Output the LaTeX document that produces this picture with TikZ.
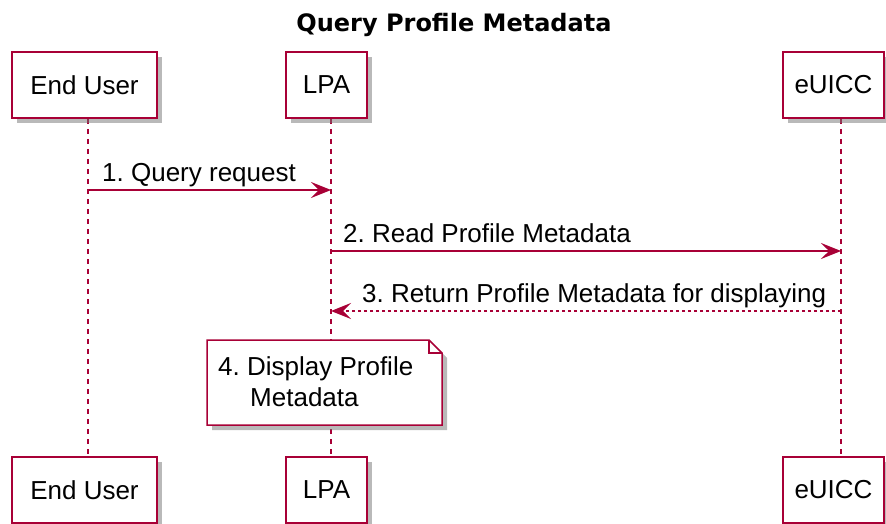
\documentclass[tikz,border=0pt]{standalone}
\usepackage{fontspec}
\setmainfont{Liberation Sans}
\newfontfamily\titlefont{DejaVu Sans}
\usetikzlibrary{arrows.meta,shadows}
\definecolor{umlred}{HTML}{A80036}
\frenchspacing

\begin{document}
\begin{tikzpicture}[x=1pt,y=-1pt,
  actor/.style={draw=umlred,line width=1.5pt,fill=white,minimum height=66pt,inner sep=0pt,font=\fontsize{26}{30}\selectfont,drop shadow={shadow xshift=5pt,shadow yshift=-5pt,fill=black!55,opacity=0.5}},
  life/.style={draw=umlred,line width=1.3pt,dash pattern=on 5pt off 5pt},
  msg/.style={draw=umlred,line width=1.4pt,-{Stealth[length=20pt,width=16pt,inset=8pt,fill=umlred]}},
  reply/.style={msg,dash pattern=on 3pt off 3pt},
  lbl/.style={anchor=base west,inner sep=0pt,font=\fontsize{26}{30}\selectfont}]
\useasboundingbox (0,0) rectangle (886,524);

\node[anchor=base,inner sep=0pt,font=\titlefont\bfseries\fontsize{24}{28}\selectfont] (title) at (454,32) {Query Profile Metadata};

\coordinate (ux) at (88,0);
\coordinate (lx) at (331,0);
\coordinate (ex) at (841,0);
\coordinate (m1) at (0,190);
\coordinate (m2) at (0,251);
\coordinate (m3) at (0,311);

\draw[life] (ux |- 0,119) -- (ux |- 0,458);
\draw[life] (lx |- 0,119) -- (lx |- 0,458);
\draw[life] (ex |- 0,119) -- (ex |- 0,458);

\node[actor,minimum width=145pt] (user) at (84.5,85) {End User};
\node[actor,minimum width=81pt] (lpa) at (326.5,85) {LPA};
\node[actor,minimum width=101pt] (euicc) at (833.5,85) {eUICC};
\node[actor,minimum width=145pt] (userB) at (84.5,490) {End User};
\node[actor,minimum width=81pt] (lpaB) at (326.5,490) {LPA};
\node[actor,minimum width=101pt] (euiccB) at (833.5,490) {eUICC};

\draw[msg] (ux |- m1) -- (lx |- m1);
\node[lbl] (t1) at (102,181) {1. Query request};
\draw[msg] (lx |- m2) -- (ex |- m2);
\node[lbl] (t2) at (343,242) {2. Read Profile Metadata};
\draw[reply] (ex |- m3) -- (lx |- m3);
\node[lbl] (t3) at (362,302) {3. Return Profile Metadata for displaying};

\draw[umlred,line width=1.5pt,fill=white,drop shadow={shadow xshift=5pt,shadow yshift=-5pt,fill=black!55,opacity=0.5}] (207,340) -- (429,340) -- (442,353) -- (442,425) -- (207,425) -- cycle;
\draw[umlred,line width=1.5pt] (429,340) -- (429,353) -- (442,353);
\node[lbl] (note1) at (218,375) {4. Display Profile};
\node[lbl] (note2) at (250,406) {Metadata};
\end{tikzpicture}
\end{document}
